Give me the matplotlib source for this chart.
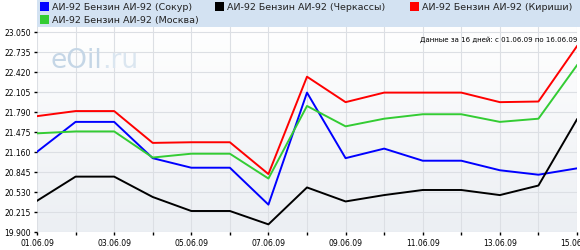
import numpy as np
import matplotlib
matplotlib.use("Agg")
import matplotlib.pyplot as plt
from matplotlib.patches import Rectangle

plt.rcParams["font.family"] = ["DejaVu Sans"]

dates = ["01.06.09", "02.06.09", "03.06.09", "04.06.09", "05.06.09",
         "06.06.09", "07.06.09", "08.06.09", "09.06.09", "10.06.09",
         "11.06.09", "12.06.09", "13.06.09", "14.06.09", "15.06.09"]

sokur = [21.16, 21.63, 21.63, 21.06, 20.91, 20.91, 20.33, 22.09, 21.06, 21.21,
         21.02, 21.02, 20.87, 20.80, 20.90]
cherkassy = [20.39, 20.77, 20.77, 20.45, 20.23, 20.23, 20.02, 20.60, 20.38, 20.48,
             20.56, 20.56, 20.48, 20.63, 21.67]
kirishi = [21.72, 21.80, 21.80, 21.30, 21.31, 21.31, 20.81, 22.34, 21.94, 22.09,
           22.09, 22.09, 21.94, 21.95, 22.82]
moskva = [21.45, 21.48, 21.48, 21.07, 21.13, 21.13, 20.74, 21.88, 21.56, 21.68,
          21.75, 21.75, 21.63, 21.68, 22.52]

series = [
    ("АИ-92 Бензин АИ-92 (Сокур)", sokur, "#0000ff"),
    ("АИ-92 Бензин АИ-92 (Черкассы)", cherkassy, "#000000"),
    ("АИ-92 Бензин АИ-92 (Кириши)", kirishi, "#ff0000"),
    ("АИ-92 Бензин АИ-92 (Москва)", moskva, "#33cc33"),
]

y_ticks = [19.900, 20.215, 20.530, 20.845, 21.160, 21.475, 21.790,
           22.105, 22.420, 22.735, 23.050]

W, H = 580, 251
fig = plt.figure(figsize=(W / 100, H / 100), dpi=100)
fig.patch.set_facecolor("white")

# plot area in pixels
left, right, top, bottom = 37, 577, 28, 233
ax = fig.add_axes([left / W, 1 - bottom / H, (right - left) / W, (bottom - top) / H])
ax.set_xlim(0, len(dates) - 1)
ax.set_ylim(19.9, 19.9 + (bottom - top) / 63.65)

# soft vertical gradient background
grad = np.linspace(1, 0, 256).reshape(-1, 1)
top_c = np.array([1.0, 1.0, 1.0])
bot_c = np.array([0.925, 0.937, 0.953])
img = (bot_c + (top_c - bot_c) * grad[..., None]) * np.ones((256, 2, 3))
ax.imshow(img, extent=[0, 1, 0, 1], transform=ax.transAxes, aspect="auto", zorder=0)

ax.set_xticks(range(len(dates)))
ax.set_xticklabels([d if i % 2 == 0 else "" for i, d in enumerate(dates)])
ax.set_yticks(y_ticks)
ax.set_yticklabels([f"{v:.3f}" for v in y_ticks])
ax.tick_params(axis="both", labelsize=5.5, length=2.5, width=1, color="black", pad=2)
ax.grid(True, color="#dcdfe4", linewidth=0.8)
ax.set_axisbelow(True)
for s in ax.spines.values():
    s.set_visible(False)

for label, vals, color in series:
    ax.plot(range(len(dates)), vals, color=color, linewidth=1.4, zorder=3)

# watermark
wm_y = 1 - 33 / (bottom - top)
wm = ax.text(13 / (right - left), wm_y, "eOil", transform=ax.transAxes,
             fontsize=19, color="#c5d6e6", ha="left", va="center", zorder=1)
fig.canvas.draw()
bb = wm.get_window_extent().transformed(ax.transAxes.inverted())
ax.text(bb.x1, wm_y, ".ru", transform=ax.transAxes,
        fontsize=19, color="#dbe6f0", ha="left", va="center", zorder=1)

ax.text(1.0, 1 - 12 / (bottom - top), "Данные за 16 дней: с 01.06.09 по 16.06.09",
        transform=ax.transAxes, fontsize=5, ha="right", va="center", color="black", zorder=4)

# legend band
fig.patches.append(Rectangle((left / W, 1 - top / H), 1 - left / W, top / H,
                             transform=fig.transFigure, facecolor="#d3e2f2",
                             edgecolor="none", zorder=0))
legend_pos = [(40, 7), (215, 7), (410, 7), (40, 20)]
for (label, vals, color), (px, py) in zip(series, legend_pos):
    fig.patches.append(Rectangle((px / W, 1 - (py + 4.5) / H), 9 / W, 9 / H,
                                 transform=fig.transFigure, facecolor=color,
                                 edgecolor="none"))
    fig.text((px + 12) / W, 1 - py / H, label, fontsize=6.8, ha="left", va="center",
             color="#222222")

fig.savefig("out.png", dpi=100)
